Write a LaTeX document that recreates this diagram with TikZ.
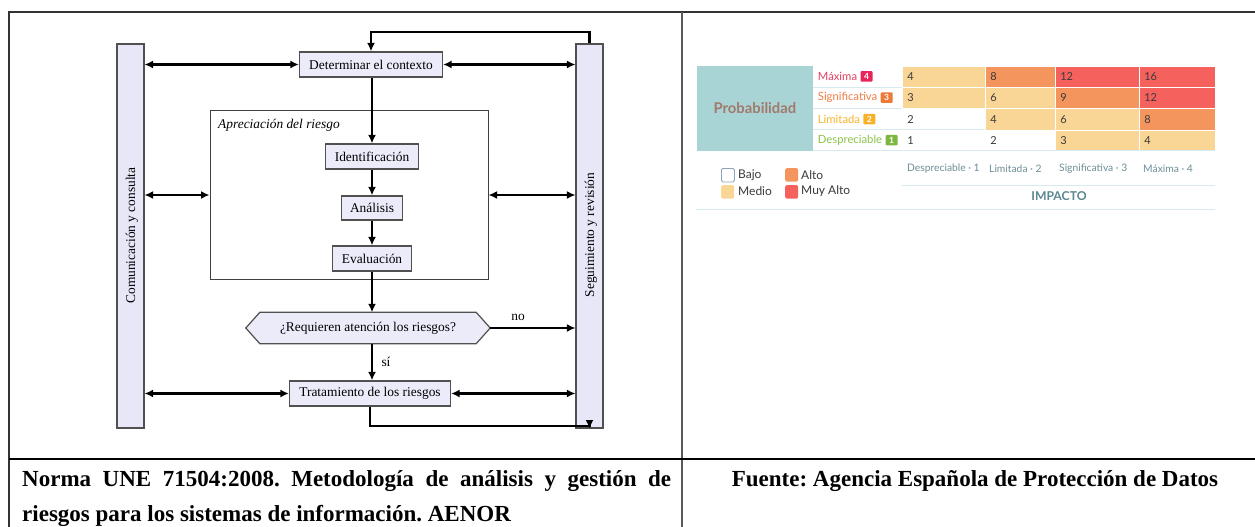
\documentclass[tikz,border=0pt]{standalone}
\usepackage{fontspec}
\setmainfont{Liberation Serif}
\newfontfamily\latof{Lato}
\usetikzlibrary{arrows.meta,positioning,calc}
\definecolor{boxfill}{HTML}{EBEBFA}
\definecolor{barfill}{HTML}{E7E7F8}
\definecolor{boxline}{HTML}{505050}
\definecolor{tealbg}{HTML}{A8D4D6}
\definecolor{probtxt}{HTML}{A3796C}
\definecolor{medio}{HTML}{F9D596}
\definecolor{alto}{HTML}{F5955E}
\definecolor{muyalto}{HTML}{F5625E}
\definecolor{lineblue}{HTML}{D5EBEF}
\definecolor{axistxt}{HTML}{6D8F97}
\definecolor{impactxt}{HTML}{5A8790}
\definecolor{maxc}{HTML}{E63F62}
\definecolor{maxb}{HTML}{E8245A}
\definecolor{sigc}{HTML}{EF7D43}
\definecolor{sigb}{HTML}{EE7A38}
\definecolor{limc}{HTML}{F7B52C}
\definecolor{limb}{HTML}{F8B22A}
\definecolor{desc}{HTML}{8BC34A}
\definecolor{desb}{HTML}{7DB741}
\definecolor{celltxt}{HTML}{3A3A3A}
\definecolor{legborder}{HTML}{8FA3B8}
\begin{document}
\frenchspacing
\begin{tikzpicture}[x=1pt,y=-1pt,
  dfont/.style={font=\fontsize{13.4}{16}\selectfont},
  box/.style={draw=boxline, line width=1.2pt, fill=boxfill, inner sep=0pt, dfont},
  bar/.style={draw=boxline, line width=1.1pt, fill=barfill, inner sep=0pt},
  arr/.style={line width=2.3pt, -{Latex[length=8.5pt,width=8pt]}},
  darr/.style={line width=2.3pt, {Latex[length=8.5pt,width=8pt]}-{Latex[length=8.5pt,width=8pt]}},
  cell/.style={anchor=north west, inner xsep=5pt, inner ysep=0pt, minimum height=21.3pt, text width=#1, align=left, draw=white, line width=0.6pt, text=celltxt, font=\latof\fontsize{11}{13}\selectfont},
  rowlab/.style={anchor=west, inner sep=0pt, font=\latof\fontsize{11.3}{13}\selectfont},
  badge/.style={inner sep=0pt, minimum width=12pt, minimum height=10.5pt, text=white, rounded corners=1pt, font=\latof\bfseries\fontsize{8.5}{9}\selectfont},
  axlab/.style={anchor=west, inner sep=0pt, text=axistxt, font=\latof\fontsize{10.3}{12}\selectfont},
  legbox/.style={anchor=north west, inner sep=0pt, minimum width=13pt, minimum height=13.5pt, rounded corners=1.5pt},
  legtxt/.style={anchor=west, inner sep=0pt, text=celltxt, font=\latof\fontsize{12}{14}\selectfont},
  thinblue/.style={draw=lineblue, line width=1pt},
  caption/.style={font=\bfseries\fontsize{23}{35.5}\selectfont, inner sep=0pt}
]
\useasboundingbox (0,0) rectangle (1255,527);
\fill[white] (0,0) rectangle (1255,527);

% ---- table frame ----
\draw[draw=black!80, line width=1.1pt] (9,527) -- (9,12) -- (1255,12);
\draw[draw=black!65, line width=1.6pt] (682,12) -- (682,527);
\draw[draw=black, line width=2pt] (9,459) -- (1255,459);

% ---- left diagram ----
\node[bar, minimum width=27pt, minimum height=384pt] (lb) at (130.5,236) {};
\node[bar, minimum width=27pt, minimum height=384pt] (rb) at (589.5,236) {};
\node[dfont, rotate=90, inner sep=0pt] (lbt) at (132,235.5) {Comunicación y consulta};
\node[dfont, rotate=90, inner sep=0pt] (rbt) at (591,235) {Seguimiento y revisión};

\node[draw=black!75, line width=1pt, minimum width=278pt, minimum height=168.6pt, inner sep=0pt] (app) at (349,195) {};
\node[dfont, anchor=west, inner sep=0pt, font=\itshape\fontsize{13.4}{16}\selectfont] (appt) at (218,125) {Apreciación del riesgo};

\node[box, minimum width=143pt, minimum height=25pt] (det) at (371,64.5) {Determinar el contexto};
\node[box, minimum width=93pt, minimum height=25pt] (ide) at (372,156.5) {Identificación};
\node[box, minimum width=61pt, minimum height=24pt] (ana) at (372,208) {Análisis};
\node[box, minimum width=79pt, minimum height=25pt] (eva) at (372,258.5) {Evaluación};
\node[inner sep=0pt, minimum width=244pt, minimum height=31pt, dfont] (q) at (368,328) {};
\draw[draw=boxline, line width=1.2pt, fill=boxfill] (q.west) -- ([xshift=14pt]q.north west) -- ([xshift=-14pt]q.north east) -- (q.east) -- ([xshift=-14pt]q.south east) -- ([xshift=14pt]q.south west) -- cycle;
\node[inner sep=0pt, dfont] (qt) at (q.center) {¿Requieren atención los riesgos?};
\node[box, minimum width=161pt, minimum height=25pt] (trat) at (370,393.5) {Tratamiento de los riesgos};

% vertical flow
\draw[arr] (rb.north) -- ++(0,-11.5) -| (det.north);
\draw[arr] (det.south -| ide.north) -- (ide.north);
\draw[arr] (ide.south) -- (ana.north);
\draw[arr] (ana.south) -- (eva.north);
\draw[arr] (eva.south) -- (eva.south |- q.north);
\draw[arr] (eva.south |- q.south) -- (eva.south |- trat.north);
\draw[arr] (trat.south) |- ([yshift=2.5pt]rb.south) -- (rb.south);
\draw[arr] (q.east) -- (rb.west |- q.east);
\node[dfont, inner sep=0pt] (no) at (518,317) {no};
\node[dfont, inner sep=0pt] (si) at (386,362) {sí};

% horizontal double arrows
\draw[darr] (lb.east |- det.west) -- (det.west);
\draw[darr] (det.east) -- (rb.west |- det.east);
\draw[darr] (lb.east |- app.west) -- (app.west);
\draw[darr] (app.east) -- (rb.west |- app.east);
\draw[darr] (lb.east |- trat.west) -- (trat.west);
\draw[darr] (trat.east) -- (rb.west |- trat.east);

% ---- right: risk matrix ----
\node[fill=tealbg, anchor=north west, inner sep=0pt, minimum width=116pt, minimum height=85.2pt, text=probtxt, font=\latof\bfseries\fontsize{14.8}{17}\selectfont] (prob) at (696.7,65.7) {Probabilidad};

% row 4 (Maxima)
\node[cell=73pt, fill=medio]   (m41) at (902,65.7) {4};
\node[cell=60pt, fill=alto]    (m42) at (985,65.7) {8};
\node[cell=74pt, fill=muyalto] (m43) at (1055,65.7) {12};
\node[cell=66pt, fill=muyalto] (m44) at (1139,65.7) {16};
% row 3
\node[cell=73pt, fill=medio]   (m31) at (902,87) {3};
\node[cell=60pt, fill=medio]   (m32) at (985,87) {6};
\node[cell=74pt, fill=alto]    (m33) at (1055,87) {9};
\node[cell=66pt, fill=muyalto] (m34) at (1139,87) {12};
% row 2
\node[cell=73pt, fill=white]   (m21) at (902,108.3) {2};
\node[cell=60pt, fill=medio]   (m22) at (985,108.3) {4};
\node[cell=74pt, fill=medio]   (m23) at (1055,108.3) {6};
\node[cell=66pt, fill=alto]    (m24) at (1139,108.3) {8};
% row 1
\node[cell=73pt, fill=white]   (m11) at (902,129.6) {1};
\node[cell=60pt, fill=white]   (m12) at (985,129.6) {2};
\node[cell=74pt, fill=medio]   (m13) at (1055,129.6) {3};
\node[cell=66pt, fill=medio]   (m14) at (1139,129.6) {4};

% row separators
\draw[thinblue] (813,87) -- (902,87);
\draw[thinblue] (813,108.3) -- (902,108.3);
\draw[thinblue] (813,129.6) -- (985,129.6);
\draw[thinblue] (813,150.9) -- (1215,150.9);

% row labels
\node[rowlab, text=maxc] (lmax) at (817.7,76.35) {Máxima};
\node[badge, fill=maxb, right=3pt of lmax] (bmax) {4};
\node[rowlab, text=sigc] (lsig) at (817.7,97.65) {Significativa};
\node[badge, fill=sigb, right=3pt of lsig] (bsig) {3};
\node[rowlab, text=limc] (llim) at (817.7,119) {Limitada};
\node[badge, fill=limb, right=3pt of llim] (blim) {2};
\node[rowlab, text=desc] (ldes) at (817.7,140.2) {Despreciable};
\node[badge, fill=desb, right=3pt of ldes] (bdes) {1};

% column labels
\node[axlab] (xdes) at (907,169) {Despreciable · 1};
\node[axlab] (xlim) at (989,169) {Limitada · 2};
\node[axlab] (xsig) at (1059,169) {Significativa · 3};
\node[axlab] (xmax) at (1143,169) {Máxima · 4};
\draw[thinblue] (902,185.7) -- (1215,185.7);
\node[inner sep=0pt, text=impactxt, font=\latof\bfseries\fontsize{12.2}{14}\selectfont] (imp) at (1059,196) {IMPACTO};
\draw[thinblue] (696,209.3) -- (1215,209.3);

% legend
\node[legbox, draw=legborder, line width=0.8pt, fill=white] (lbajo) at (721,168) {};
\node[legtxt] (tbajo) at (738,175) {Bajo};
\node[legbox, fill=medio] (lmedio) at (721,185) {};
\node[legtxt] (tmedio) at (738,191.5) {Medio};
\node[legbox, fill=alto] (lalto) at (785,168) {};
\node[legtxt] (talto) at (801,175) {Alto};
\node[legbox, fill=muyalto] (lmuy) at (785,185) {};
\node[legtxt] (tmuy) at (801,191.5) {Muy Alto};

% ---- captions ----
\node[caption, anchor=north west, text width=649pt, align=justify] (capL) at (22,470) {Norma UNE 71504:2008. Metodología de análisis y gestión de\linebreak riesgos para los sistemas de información. AENOR};
\node[caption, anchor=base] (capR) at (975,486) {Fuente: Agencia Española de Protección de Datos};
\end{tikzpicture}
\end{document}
